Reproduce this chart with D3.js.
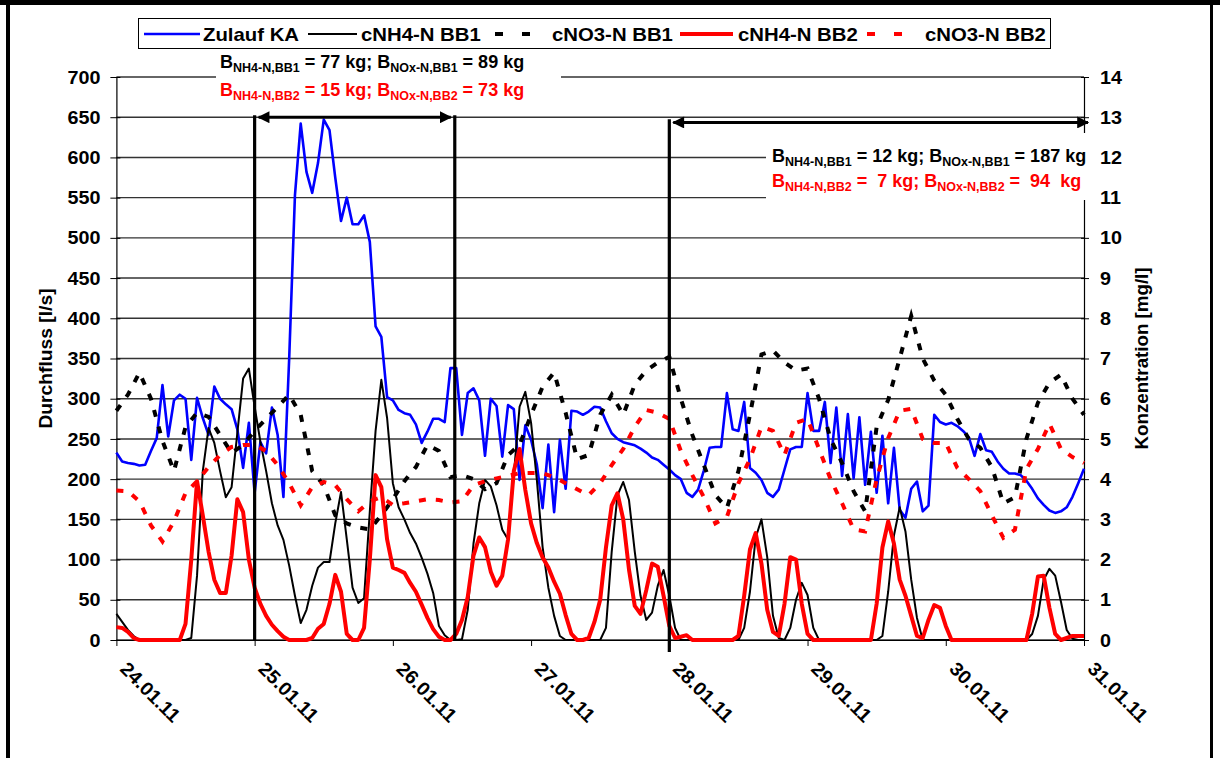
<!DOCTYPE html>
<html><head><meta charset="utf-8">
<script src="https://cdn.jsdelivr.net/npm/d3@7"></script>
<style>
body{margin:0;background:#fff}
svg{display:block}
text{font-family:"Liberation Sans",Arial,Helvetica,sans-serif;font-weight:bold}
</style>
</head><body>
<svg id="chart" width="1220" height="758"></svg>
<script>
// ---------------- DATA ----------------
const startTime = new Date(2011, 0, 24, 0, 0);
const endTime = new Date(2011, 0, 31, 0, 0);
const dayTicks = ["24.01.11","25.01.11","26.01.11","27.01.11","28.01.11","29.01.11","30.01.11","31.01.11"];
const leftTicks = [0,50,100,150,200,250,300,350,400,450,500,550,600,650,700];
const rightTicks = [0,1,2,3,4,5,6,7,8,9,10,11,12,13,14];

// Zulauf KA [l/s], hourly from 24.01.11 00:00
const zulaufKA = [233,222,220,219,217,218,235,251,317,253,298,305,300,224,301,276,255,315,300,293,287,262,214,270,
183,246,232,289,255,178,350,553,642,582,556,593,647,634,575,521,550,517,517,528,495,390,377,302,
298,286,282,280,268,245,259,275,275,271,338,338,255,307,313,298,229,300,291,228,292,287,199,267,
249,218,164,243,159,249,188,285,284,280,284,290,289,272,257,250,246,244,242,238,233,227,224,218,
212,205,200,183,178,187,211,239,240,240,307,262,260,296,214,208,199,183,178,187,212,237,240,240,
307,260,260,296,220,289,204,281,201,277,193,259,183,254,170,239,162,152,188,197,160,167,280,271,
268,270,266,260,252,229,256,236,234,222,213,207,207,205,198,188,176,168,161,158,160,165,178,195,213];

// cNH4-N BB1 [mg/l], hourly
const nh4BB1 = [0.65,0.45,0.25,0.1,0,0,0,0,0,0,
0,0,0,0.05,1.6,4.2,5.27,4.9,4.2,3.55,
3.8,5.15,6.5,6.75,5.8,4.93,4.2,3.4,2.85,2.49,
1.85,1.1,0.42,0.75,1.35,1.8,1.94,1.94,2.9,3.68,
2.5,1.3,0.92,1.04,3.2,5.2,6.47,5.52,3.9,3.3,
3.0,2.66,2.4,2.05,1.65,1.17,0.35,0.12,0,0,
0.02,0.75,2.4,3.4,3.98,3.82,3.35,2.74,2.5,4.1,
5.8,6.17,5.4,3.98,2.31,1.3,0.6,0.1,0,0,
0,0,0,0,0,0.3,2.2,3.6,3.93,3.48,
2.2,1.1,0.5,0.68,1.35,1.74,1.1,0.3,0,0,
0,0,0,0,0,0,0,0,0,0.3,
1.2,2.55,3.0,2.06,0.6,0.05,0,0.3,1.0,1.42,
1.12,0.3,0,0,0,0,0,0,0,0,
0,0,0,0.1,1.2,2.6,3.3,2.7,1.5,0.55,
0,0,0,0,0,0,0,0,0,0,
0,0,0,0,0,0,0,0,0,0.15,
0.6,1.5,1.77,1.6,0.95,0.25,0.03,0,0];

// cNH4-N BB2 [mg/l], hourly
const nh4BB2 = [0.32,0.3,0.2,0.05,0,0,0,0,0,0,
0,0,0.4,2.0,3.95,3.1,2.2,1.5,1.17,1.17,
2.1,3.5,3.18,2.0,1.3,0.9,0.6,0.38,0.22,0.08,
0,0,0,0,0.05,0.28,0.4,0.9,1.62,1.2,
0.15,0,0,0.3,2.0,4.1,3.8,2.5,1.8,1.74,
1.67,1.42,1.2,0.88,0.55,0.27,0.08,0,0,0.15,
0.5,1.07,2.1,2.55,2.31,1.7,1.35,1.6,2.5,4.2,
4.75,3.73,2.9,2.41,2.05,1.8,1.45,1.15,0.62,0.15,
0,0,0.05,0.45,1.0,2.3,3.35,3.65,3.0,1.75,
0.85,0.65,1.24,1.9,1.82,1.1,0.35,0.05,0.08,0.12,
0,0,0,0,0,0,0,0,0.1,1.1,
2.25,2.66,1.9,0.75,0.2,0.1,0.9,2.06,2.0,0.9,
0.15,0,0,0,0,0,0,0,0,0,
0,0,0.9,2.3,2.95,2.4,1.5,1.1,0.6,0.1,
0.05,0.5,0.87,0.8,0.35,0,0,0,0,0,
0,0,0,0,0,0,0,0,0,0.65,
1.58,1.6,0.8,0.15,0,0.05,0.1,0.1,0.1];

// cNO3-N BB1 [mg/l], every 2 hours
const no3BB1 = [5.7,6.1,6.65,6.0,4.95,4.2,5.3,5.65,5.55,5.1,
4.65,4.85,5.2,5.5,5.8,6.1,5.6,4.2,3.85,3.1,
2.9,2.8,2.75,3.1,3.5,3.95,4.3,4.85,4.7,4.05,
4.1,4.0,3.75,3.9,4.6,4.85,5.6,6.3,6.65,5.65,
4.5,4.6,5.6,6.1,5.6,6.35,6.7,6.9,7.04,6.0,
5.1,4.35,3.6,3.28,4.2,5.6,7.1,7.2,6.9,6.7,
6.75,6.0,5.0,4.4,3.7,3.2,5.3,5.97,7.0,8.06,
7.0,6.45,6.1,5.5,5.0,4.78,4.3,3.4,3.55,5.0,
5.9,6.4,6.6,6.0,5.6];

// cNO3-N BB2 [mg/l], every 2 hours
const no3BB2 = [3.72,3.7,3.45,2.85,2.45,2.95,3.65,3.95,4.3,4.6,
4.8,4.85,4.85,4.7,4.35,3.9,3.35,3.8,3.93,3.85,
3.5,3.2,3.45,3.55,3.36,3.4,3.45,3.5,3.48,3.42,
3.45,3.85,3.95,4.02,4.08,4.15,4.15,4.15,4.05,3.9,
3.75,3.6,3.9,4.35,4.75,5.3,5.72,5.65,5.5,4.7,
4.1,3.55,2.9,3.06,3.9,4.5,5.3,5.2,4.6,5.4,
5.5,4.75,4.0,3.4,2.75,2.7,4.0,5.02,5.7,5.75,
5.0,4.9,4.9,4.28,4.0,3.7,3.1,2.54,2.74,4.25,
4.75,5.38,4.75,4.55,4.4];

// balance periods (markers)
const periodStarts = [new Date(2011,0,25,0,0), new Date(2011,0,28,0,0)];
const periodEnds   = [new Date(2011,0,26,10,45), new Date(2011,0,31,0,0)];
const periodArrowLevel = [13.0, 12.87];   // mg/l axis level of the arrows
const periodLineTop = [13.05, 12.95];
const periodLineBottom = [0, -0.3];

const legendNames = ["Zulauf KA","cNH4-N BB1","cNO3-N BB1","cNH4-N BB2","cNO3-N BB2"];

// ---------------- CHART ----------------
const svg = d3.select("#chart");
const W = 1220, H = 758;
function stretch(sel, f){
  sel.each(function(){
    const L = this.getComputedTextLength();
    this.setAttribute("textLength", (L*f).toFixed(2));
    this.setAttribute("lengthAdjust","spacingAndGlyphs");
  });
}
svg.append("rect").attr("width",W).attr("height",H).attr("fill","#fff");
// outer frame
svg.append("rect").attr("x",0).attr("y",0).attr("width",W).attr("height",5).attr("fill","#000");
svg.append("rect").attr("x",6).attr("y",0).attr("width",4).attr("height",H).attr("fill","#000");
svg.append("rect").attr("x",1210).attr("y",0).attr("width",3).attr("height",H).attr("fill","#000");

const x = d3.scaleTime().domain([startTime,endTime]).range([116.4,1084]);
const yL = d3.scaleLinear().domain([0,700]).range([640,77]);
const yR = d3.scaleLinear().domain([0,14]).range([640,77]);
const HOUR = 3600*1000;
const timeAt = (i,step) => new Date(startTime.getTime() + i*step*HOUR);

// gridlines
svg.append("g").selectAll("line").data(leftTicks).join("line")
  .attr("x1",x(startTime)).attr("x2",x(endTime))
  .attr("y1",d=>yL(d)).attr("y2",d=>yL(d))
  .attr("stroke","#333").attr("stroke-width",1.4);

// left axis
const axL = svg.append("g").attr("transform",`translate(${x(startTime)},0)`)
  .call(d3.axisLeft(yL).tickValues(leftTicks).tickSize(6).tickPadding(10).tickSizeOuter(0));
axL.select(".domain").attr("stroke","#000").attr("stroke-width",1.2);
axL.selectAll(".tick line").attr("stroke","#000").attr("x2",-6).attr("x1",4);
axL.selectAll("text").attr("font-size",19).attr("fill","#000").call(stretch,1.04);

// right axis
const axR = svg.append("g").attr("transform",`translate(${x(endTime)},0)`)
  .call(d3.axisRight(yR).tickValues(rightTicks).tickSize(5).tickPadding(11).tickSizeOuter(0));
axR.select(".domain").attr("stroke","#000").attr("stroke-width",1.2);
axR.selectAll(".tick line").attr("stroke","#000").attr("x1",-3).attr("x2",5);
axR.selectAll("text").attr("font-size",19).attr("fill","#000").call(stretch,1.04);

// bottom axis
const dayDates = dayTicks.map((d,i)=> d3.timeDay.offset(startTime,i));
const axB = svg.append("g").attr("transform",`translate(0,${yL(0)})`)
  .call(d3.axisBottom(x).tickValues(dayDates).tickSize(6).tickFormat((d,i)=>dayTicks[i]).tickSizeOuter(0));
axB.select(".domain").attr("stroke","#000").attr("stroke-width",1.2);
axB.selectAll(".tick line").attr("stroke","#000");
axB.selectAll("text").attr("font-size",19).attr("fill","#000")
  .attr("text-anchor","start").attr("dy",null).attr("y",null)
  .attr("transform","translate(2,30) rotate(45)").call(stretch,1.04);

// axis titles
svg.append("text").attr("transform",`translate(52,${(yL(0)+yL(700))/2}) rotate(-90)`)
  .attr("text-anchor","middle").attr("font-size",17.5).text("Durchfluss [l/s]").call(stretch,1.1);
svg.append("text").attr("transform",`translate(1148,${(yL(0)+yL(700))/2}) rotate(-90)`)
  .attr("text-anchor","middle").attr("font-size",17.5).text("Konzentration [mg/l]").call(stretch,1.07);

// series
const lineL = (step)=> d3.line().x((d,i)=>x(timeAt(i,step))).y(d=>yL(d));
const lineR = (step)=> d3.line().x((d,i)=>x(timeAt(i,step))).y(d=>yR(d));
const dash = "7,10";
svg.append("path").attr("d",lineL(1)(zulaufKA)).attr("fill","none").attr("stroke","#0000ff").attr("stroke-width",2.6).attr("stroke-linejoin","round");
svg.append("path").attr("d",lineR(1)(nh4BB1)).attr("fill","none").attr("stroke","#000").attr("stroke-width",2).attr("stroke-linejoin","round");
svg.append("path").attr("d",lineR(2)(no3BB1)).attr("fill","none").attr("stroke","#000").attr("stroke-width",4).attr("stroke-dasharray",dash);
svg.append("path").attr("d",lineR(1)(nh4BB2)).attr("fill","none").attr("stroke","#ff0000").attr("stroke-width",4).attr("stroke-linejoin","round");
svg.append("path").attr("d",lineR(2)(no3BB2)).attr("fill","none").attr("stroke","#ff0000").attr("stroke-width",4).attr("stroke-dasharray",dash);

// period markers
const defs = svg.append("defs");
defs.append("marker").attr("id","ah").attr("viewBox","0 0 10 10").attr("refX",9).attr("refY",5)
  .attr("markerWidth",5).attr("markerHeight",4).attr("markerUnits","strokeWidth").attr("orient","auto-start-reverse")
  .append("path").attr("d","M0,0 L10,5 L0,10 z").attr("fill","#000");
const allMarkerDates = [periodStarts[0], periodEnds[0], periodStarts[1]];
const allTops = [periodLineTop[0], periodLineTop[0], periodLineTop[1]];
const allBottoms = [periodLineBottom[0], periodLineBottom[0], periodLineBottom[1]];
svg.append("g").selectAll("line").data(allMarkerDates).join("line")
  .attr("x1",d=>x(d)).attr("x2",d=>x(d))
  .attr("y1",(d,i)=>yR(allTops[i])).attr("y2",(d,i)=>yR(allBottoms[i]))
  .attr("stroke","#000").attr("stroke-width",3.2);
periodStarts.forEach((s,i)=>{
  svg.append("line").attr("x1",x(s)+4).attr("x2",x(periodEnds[i])-(i==0?4:-4))
    .attr("y1",yR(periodArrowLevel[i])).attr("y2",yR(periodArrowLevel[i]))
    .attr("stroke","#000").attr("stroke-width",3)
    .attr("marker-start","url(#ah)").attr("marker-end","url(#ah)");
});

// annotations
function balance(g, xPos, yPos, color, parts){
  const t = g.append("text").attr("x",xPos).attr("y",yPos).attr("fill",color).attr("font-size",18).attr("xml:space","preserve").style("white-space","pre");
  parts.forEach(p=>{
    if(p.sub) t.append("tspan").attr("font-size",12.5).attr("dy",4).text(p.sub);
    else t.append("tspan").attr("dy", p.up?-4:0).text(p.t);
  });
}
const ann1 = svg.append("g");
ann1.append("rect").attr("x",216).attr("y",50).attr("width",345).attr("height",52).attr("fill","#fff");
balance(ann1,220,68,"#000",[{t:"B"},{sub:"NH4-N,BB1"},{t:" = 77 kg; B",up:true},{sub:"NOx-N,BB1"},{t:" = 89 kg",up:true}]);
balance(ann1,220,96,"#ff0000",[{t:"B"},{sub:"NH4-N,BB2"},{t:" = 15 kg; B",up:true},{sub:"NOx-N,BB2"},{t:" = 73 kg",up:true}]);
const ann2 = svg.append("g");
ann2.append("rect").attr("x",766).attr("y",133).attr("width",324).attr("height",67).attr("fill","#fff");
balance(ann2,772,162,"#000",[{t:"B"},{sub:"NH4-N,BB1"},{t:" = 12 kg; B",up:true},{sub:"NOx-N,BB1"},{t:" = 187 kg",up:true}]);
balance(ann2,772,187,"#ff0000",[{t:"B"},{sub:"NH4-N,BB2"},{t:" =  7 kg; B",up:true},{sub:"NOx-N,BB2"},{t:" =  94  kg",up:true}]);

// legend
const lg = svg.append("g");
lg.append("rect").attr("x",138.5).attr("y",18.5).attr("width",912).attr("height",30).attr("fill","#fff").attr("stroke","#000").attr("stroke-width",1);
const legItems = [
  {x0:144,x1:200,tx:203,color:"#0000ff",w:2.6,dash:null},
  {x0:308,x1:357,tx:361,color:"#000",w:2,dash:null},
  {x0:495,x1:535,tx:552,color:"#000",w:4,dash:"8,19"},
  {x0:680,x1:733,tx:738,color:"#ff0000",w:4,dash:null},
  {x0:867,x1:905,tx:925,color:"#ff0000",w:4,dash:"8,19"}
];
legItems.forEach((it,i)=>{
  lg.append("line").attr("x1",it.x0).attr("x2",it.x1).attr("y1",34).attr("y2",34)
    .attr("stroke",it.color).attr("stroke-width",it.w).attr("stroke-dasharray",it.dash);
  lg.append("text").attr("x",it.tx).attr("y",41).attr("font-size",19).text(legendNames[i]).call(stretch,1.07);
});
</script>
</body></html>
